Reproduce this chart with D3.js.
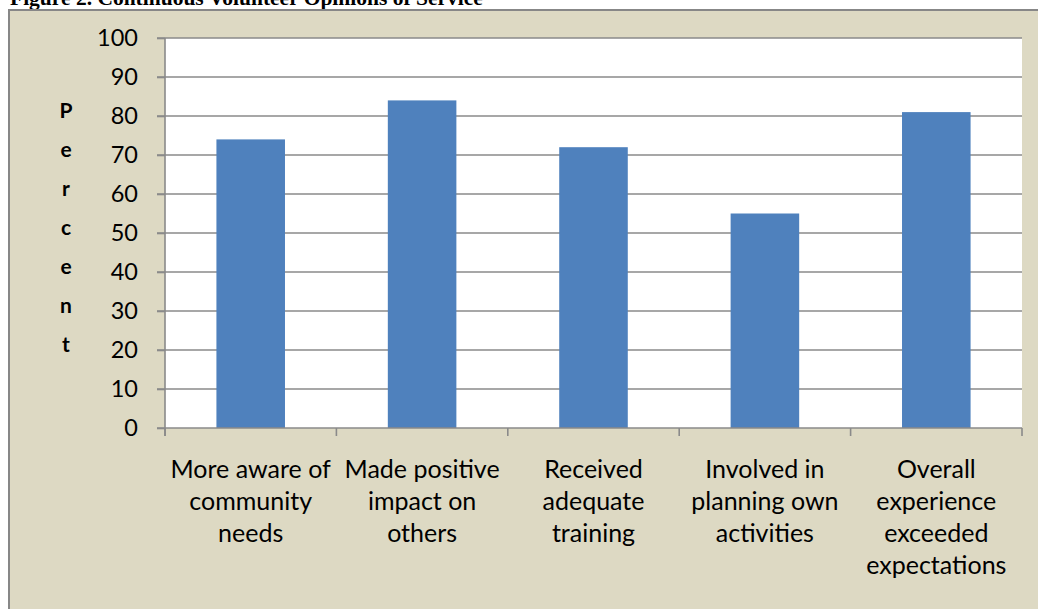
<!DOCTYPE html>
<html>
<head>
<meta charset="utf-8">
<script src="https://cdn.jsdelivr.net/npm/d3@7"></script>
<style>
  html, body { margin: 0; padding: 0; background: #ffffff; overflow: hidden; }
  svg { display: block; }
</style>
</head>
<body>
<svg id="chart" width="1038" height="609"></svg>
<script>
const title = "Figure 2. Continuous Volunteer Opinions of Service";
const categories = [
  ["More aware of", "community", "needs"],
  ["Made positive", "impact on", "others"],
  ["Received", "adequate", "training"],
  ["Involved in", "planning own", "activities"],
  ["Overall", "experience", "exceeded", "expectations"]
];
const values = [74, 84, 72, 55, 81];
const yTicks = [0, 10, 20, 30, 40, 50, 60, 70, 80, 90, 100];
const yTitle = "Percent";

const svg = d3.select("#chart");
const W = 1038, H = 609;
const plot = { left: 165, right: 1022, top: 38, bottom: 428 };

// title (partially clipped at top, as in the reference)
svg.append("text")
  .attr("x", 10).attr("y", 5)
  .attr("font-family", "'Liberation Serif', 'Times New Roman', serif")
  .attr("font-weight", "bold")
  .attr("font-size", 21.5)
  .attr("fill", "#000")
  .text(title);

// chart area background
svg.append("rect")
  .attr("x", 9).attr("y", 10)
  .attr("width", W + 20).attr("height", H + 20)
  .attr("fill", "#DDD9C3")
  .attr("stroke", "#878787")
  .attr("stroke-width", 2);

// plot area
svg.append("rect")
  .attr("x", plot.left).attr("y", plot.top)
  .attr("width", plot.right - plot.left).attr("height", plot.bottom - plot.top)
  .attr("fill", "#ffffff");

const keys = categories.map((c, i) => "c" + i);
const x = d3.scaleBand().domain(keys).range([plot.left, plot.right])
  .paddingInner(0.6).paddingOuter(0.3);
const y = d3.scaleLinear().domain([0, 100]).range([plot.bottom, plot.top]);

const gridColor = "#8a8a8a";

// gridlines
svg.append("g").selectAll("line").data(yTicks.filter(d => d > 0)).join("line")
  .attr("x1", plot.left - 8).attr("x2", plot.right)
  .attr("y1", d => y(d)).attr("y2", d => y(d))
  .attr("stroke", gridColor).attr("stroke-width", 1.6);

// bars
svg.append("g").selectAll("rect").data(values).join("rect")
  .attr("x", (d, i) => x(keys[i]))
  .attr("width", x.bandwidth())
  .attr("y", d => y(d))
  .attr("height", d => y(0) - y(d))
  .attr("fill", "#4F81BD");

// y axis
const yAxis = d3.axisLeft(y).tickValues(yTicks).tickSize(8).tickPadding(19);
const gy = svg.append("g").attr("transform", `translate(${plot.left},0)`).call(yAxis);
gy.select(".domain").remove();
gy.selectAll(".tick line").attr("stroke", gridColor).attr("stroke-width", 1.6);
gy.selectAll(".tick text")
  .attr("font-family", "Lato, 'Open Sans', sans-serif")
  .attr("font-size", 23.5)
  .attr("fill", "#000");
svg.append("line")
  .attr("x1", plot.left).attr("x2", plot.left)
  .attr("y1", plot.top).attr("y2", plot.bottom + 8)
  .attr("stroke", gridColor).attr("stroke-width", 1.6);

// x axis line and boundary ticks
svg.append("line")
  .attr("x1", plot.left - 8).attr("x2", plot.right)
  .attr("y1", plot.bottom).attr("y2", plot.bottom)
  .attr("stroke", gridColor).attr("stroke-width", 1.6);
const bounds = d3.range(categories.length + 1).map(i => plot.left + i * (plot.right - plot.left) / categories.length);
svg.append("g").selectAll("line").data(bounds).join("line")
  .attr("x1", d => d).attr("x2", d => d)
  .attr("y1", plot.bottom).attr("y2", plot.bottom + 8)
  .attr("stroke", gridColor).attr("stroke-width", 1.6);

// x category labels
const lbl = svg.append("g")
  .attr("font-family", "Lato, 'Open Sans', sans-serif")
  .attr("font-size", 25)
  .attr("fill", "#000")
  .attr("text-anchor", "middle");
categories.forEach((lines, i) => {
  const cx = x(keys[i]) + x.bandwidth() / 2;
  const t = lbl.append("text").attr("x", cx).attr("y", 478);
  lines.forEach((ln, j) => {
    t.append("tspan").attr("x", cx).attr("y", 478 + j * 32).text(ln);
  });
});

// vertical stacked y title
const yt = svg.append("g")
  .attr("font-family", "Lato, 'Open Sans', sans-serif")
  .attr("font-weight", "bold")
  .attr("font-size", 21)
  .attr("fill", "#000")
  .attr("text-anchor", "middle");
yTitle.split("").forEach((ch, i) => {
  yt.append("text").attr("x", 66).attr("y", 118 + i * 39).text(ch);
});
</script>
</body>
</html>
